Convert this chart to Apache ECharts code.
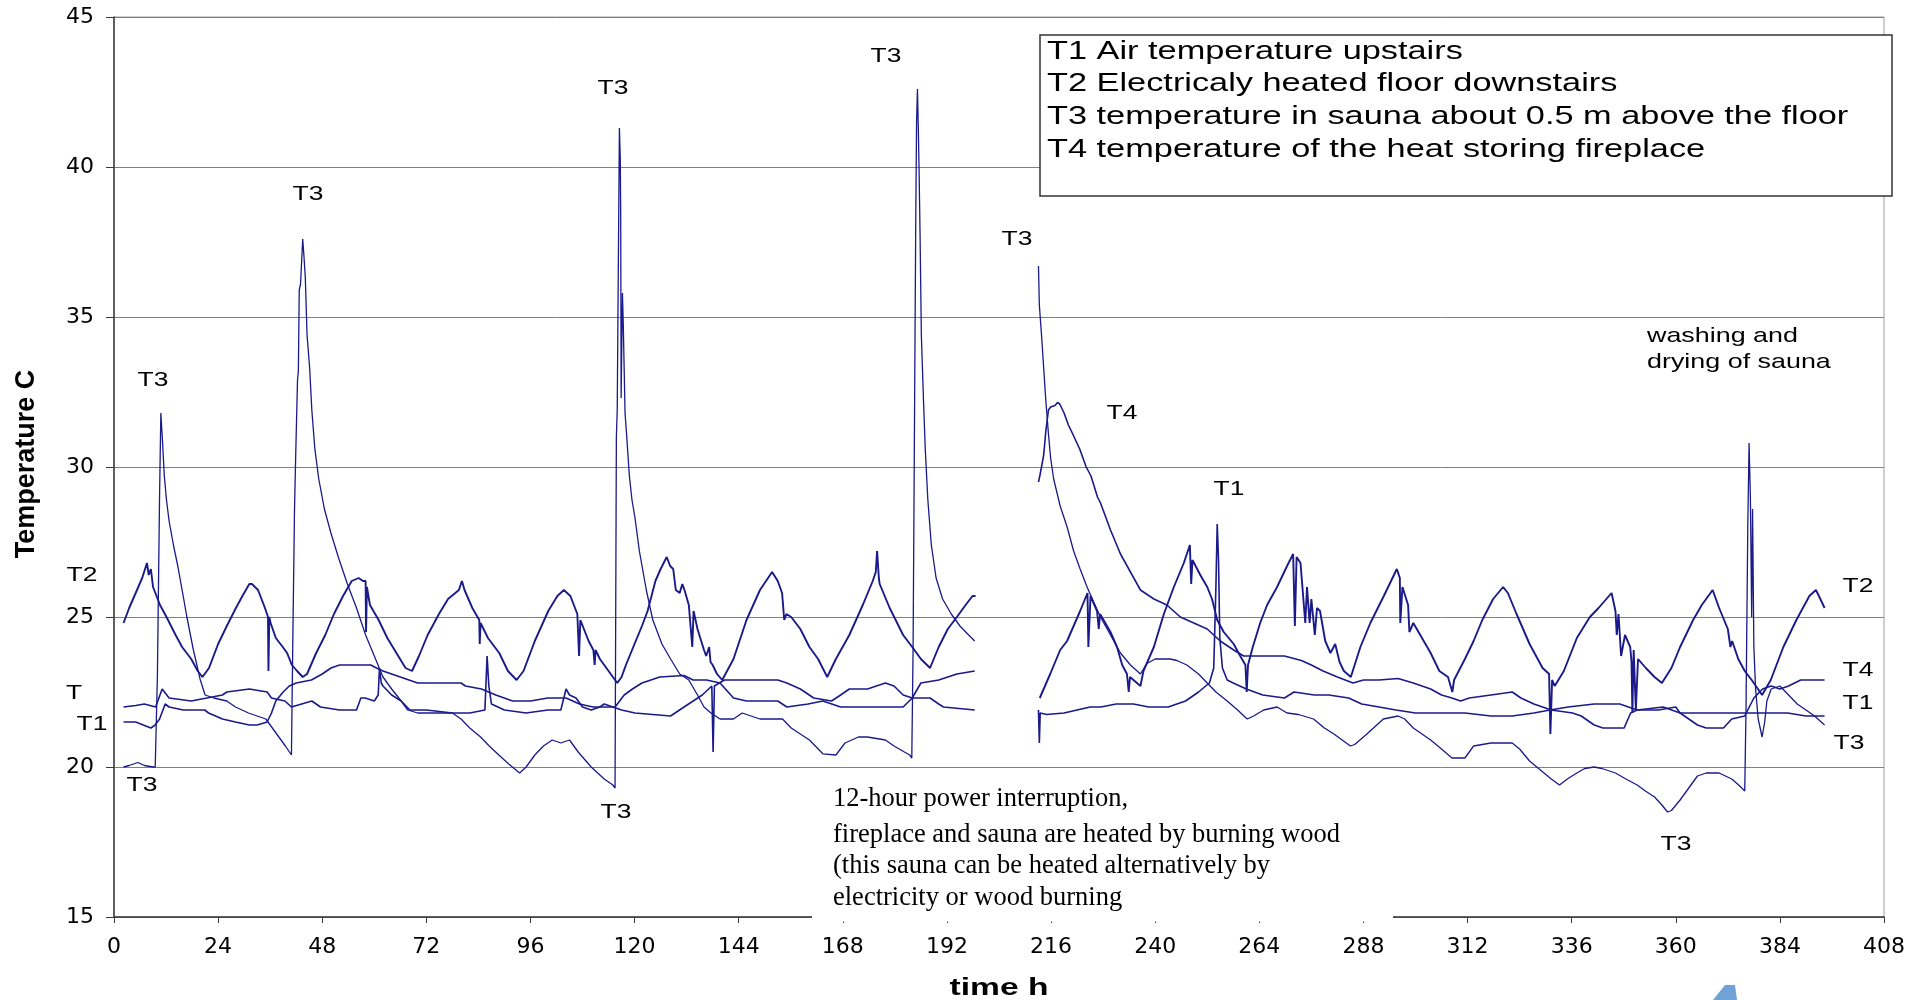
<!DOCTYPE html>
<html><head><meta charset="utf-8">
<script src="https://cdn.jsdelivr.net/npm/echarts@6/dist/echarts.min.js"></script>
<style>html,body{margin:0;padding:0;background:#fff}#c{width:1924px;height:1000px}</style>
</head><body><div id="c"></div>
<script>
// axis settings
const xMin = 0, xMax = 408, xStep = 24;
const yMin = 15, yMax = 45, yStep = 5;

// series names
const seriesNames = ['T1', 'T2', 'T3', 'T4'];

// T1 air temperature upstairs  [hour, degC]
const t1 = [
[2.2,21.5],[5,21.5],[8.5,21.3],[9.5,21.4],[10.5,21.6],[11.8,22.1],[12.7,22.0],[16,21.9],[20.9,21.9],[21.8,21.8],[25,21.6],[28,21.5],[31.2,21.4],[33,21.4],[35.3,21.5],[36.3,21.8],[37.3,22.2],[39,22.5],[40.4,22.7],[42,22.8],[45.5,22.9],[48,23.1],[50,23.3],[52,23.4],[54,23.4],[57,23.4],[59.2,23.4],[60.5,23.3],[62,23.2],[66,23.0],[70,22.8],[75,22.8],[80,22.8],[81,22.7],[84.7,22.6],[88,22.4],[91.9,22.2],[96,22.2],[100,22.3],[104.2,22.3],[107.3,22.1],[110.4,22.0],[115.5,22.0],[117.6,22.4],[119.5,22.6],[121.7,22.8],[125.8,23.0],[131.4,23.05],[133.5,22.9],[136.6,22.9],[139.7,22.8],[142.8,22.3],[145.8,22.2],[153,22.2],[155.1,22.0],[160,22.1],[163.4,22.2],[167.5,22.0],[175,22.0],[181.9,22.0],[184,22.3],[186,22.8],[190.1,22.9],[194.3,23.1],[198.4,23.2],
[206,null],
[213.1,21.9],[213.3,20.8],[213.5,21.8],[215,21.75],[219,21.8],[222,21.9],[225,22.0],[227.5,22.0],[231,22.1],[235,22.1],[238.5,22.0],[243,22.0],[247,22.2],[250,22.5],[252.5,22.8],[253.5,23.3],[254,26.0],[254.3,28.1],[254.6,26.9],[254.9,24.3],[255.5,23.3],[256.6,22.9],[258,22.8],[261,22.6],[264.8,22.4],[269.8,22.3],[272,22.5],[276.7,22.4],[280,22.4],[284.6,22.3],[287.6,22.1],[291.6,22.0],[295.5,21.9],[300,21.8],[311.4,21.8],[317.4,21.7],[322.3,21.7],[327.3,21.8],[331,21.9],[335.2,22.0],[341.2,22.1],[347.1,22.1],[351.1,21.9],[357.1,22.0],[361,21.8],[370.9,21.8],[375.9,21.8],[385.8,21.8],[390,21.7],[394.3,21.7]
];

// T2 electrically heated floor downstairs
const t2 = [
[2.2,24.8],[3.5,25.3],[5,25.8],[6.5,26.3],[7.6,26.8],[8.0,26.4],[8.5,26.6],[9.0,26.0],[10.6,25.4],[12.1,25.0],[14.2,24.4],[15.7,24.0],[17.8,23.6],[19.3,23.2],[20.4,23.0],[21.9,23.3],[24,24.1],[26,24.7],[28.1,25.3],[29.6,25.7],[31.2,26.1],[31.8,26.1],[33.2,25.9],[34.8,25.3],[35.5,25.0],[35.6,23.2],[35.8,25.0],[36.1,24.8],[37.3,24.3],[38.9,24.0],[39.9,23.8],[41,23.4],[42.2,23.2],[43.5,23.0],[44.5,23.1],[46.6,23.8],[48.7,24.4],[50.7,25.1],[52.8,25.7],[54.8,26.2],[56.4,26.3],[57.4,26.2],[58.0,26.2],[58.1,24.5],[58.3,26.0],[59,25.4],[61,24.9],[63,24.3],[65.1,23.8],[67.2,23.3],[68.7,23.2],[70.3,23.7],[72.3,24.4],[74.9,25.1],[77,25.6],[79.5,25.9],[80.2,26.2],[80.8,25.9],[82.6,25.3],[84.2,24.9],[84.3,24.1],[84.5,24.8],[86.2,24.3],[88.8,23.8],[90.8,23.2],[92.8,22.9],[94.4,23.2],[97,24.2],[100.1,25.2],[102.2,25.7],[103.7,25.9],[105.2,25.7],[106.8,25.1],[107.2,23.7],[107.5,24.9],[109.4,24.2],[110.5,23.9],[110.8,23.4],[111,23.9],[112,23.6],[113.5,23.3],[115,23.0],[116,22.8],[117,23.0],[118,23.4],[119.7,24.0],[121.7,24.7],[123,25.2],[124.8,26.2],[126,26.6],[127.4,27.0],[128.2,26.7],[128.9,26.6],[129.5,25.9],[130.4,25.8],[131,26.1],[131.5,25.9],[132.5,25.4],[133.3,24.0],[133.6,25.2],[134.5,24.6],[136,23.9],[136.5,23.7],[137.2,24.0],[137.5,23.5],[138,23.4],[139,23.1],[140.2,22.9],[142.8,23.6],[145.8,24.9],[148.9,25.9],[151.7,26.5],[153,26.2],[154,25.8],[154.5,24.9],[155,25.1],[156.1,25.0],[158.2,24.6],[160.3,24.0],[162.3,23.6],[164.4,23.0],[166.4,23.6],[169.5,24.4],[172.6,25.4],[174.9,26.2],[175.6,26.5],[175.9,27.2],[176.3,26.3],[176.5,26.1],[178.8,25.3],[181.9,24.4],[184,24.0],[186,23.6],[188.1,23.3],[190.1,24.0],[192.2,24.6],[194.3,25.0],[196.3,25.4],[197.9,25.7],[198.6,25.7],
[206,null],
[213.4,22.3],[215.8,23.1],[218.1,23.9],[219.7,24.2],[222.7,25.2],[224.4,25.8],[224.6,24.0],[225.1,25.7],[226.6,25.2],[227,24.6],[227.3,25.1],[228.1,24.9],[229.7,24.5],[231.2,24.0],[232.4,23.4],[233.5,23.1],[233.9,22.5],[234.2,23.0],[235,22.9],[236.6,22.7],[237.3,23.2],[239.7,24.0],[242,25.1],[244.3,26.0],[246.6,26.8],[248,27.4],[248.3,26.1],[248.6,26.9],[250.4,26.4],[252,26.0],[253.1,25.6],[254.3,24.9],[255.8,24.5],[258.1,24.1],[259.6,23.7],[260.8,23.4],[261.1,22.5],[261.4,23.4],[262.5,24.0],[264.2,24.8],[265.8,25.4],[268.1,26.0],[270.4,26.7],[271.8,27.1],[272.2,24.7],[272.6,27.0],[273.5,26.8],[274.6,24.8],[275,26.0],[275.6,24.8],[276,25.6],[276.8,24.4],[277.3,25.3],[278,25.2],[279.2,24.2],[280.4,23.8],[281.5,24.1],[282.5,23.5],[283.5,23.2],[285.1,23.0],[287.3,24.0],[289.6,24.8],[292.7,25.7],[295.7,26.6],[296.4,26.3],[296.5,24.8],[297,26.0],[298.3,25.4],[298.6,24.5],[299.5,24.8],[301.5,24.3],[303.5,23.8],[305.5,23.2],[307.5,23.0],[308.5,22.5],[308.9,22.9],[311.4,23.6],[313.4,24.2],[315.4,24.9],[317.9,25.6],[320.2,26.0],[321.3,25.8],[323.3,25.1],[326.3,24.1],[329.3,23.3],[330.8,23.1],[331.1,21.1],[331.5,22.9],[332.1,22.7],[334.2,23.2],[337.2,24.3],[340.2,25.0],[342.2,25.3],[344,25.6],[345.2,25.8],[346.1,25.2],[346.4,24.4],[346.8,25.1],[347.4,23.7],[348.3,24.4],[349.5,24.0],[349.8,23.5],[350.0,21.8],[350.3,23.9],[350.8,21.9],[351.3,23.6],[353.1,23.3],[355.1,23.0],[356.8,22.8],[359,23.3],[361,24.0],[364,24.9],[366,25.4],[368,25.8],[368.5,25.9],[370,25.3],[372,24.6],[372.6,24.0],[373,24.2],[374.4,23.6],[375.9,23.2],[377.5,22.9],[379.9,22.4],[381.9,22.9],[384.8,24.0],[387.8,24.9],[390.8,25.7],[392.3,25.9],[393,25.7],[394.3,25.3]
];

// T3 temperature in sauna about 0.5 m above the floor
const t3 = [
[2.2,20.0],[3.5,20.05],[5.5,20.15],[7,20.05],[9,20.0],[9.5,20.0],[10.0,23.0],[10.5,29.0],[10.8,31.8],[11.2,30.8],[11.6,29.7],[12.1,28.9],[12.7,28.2],[13.7,27.4],[14.7,26.7],[15.7,25.9],[16.8,25.0],[18.3,23.9],[19.9,22.9],[21,22.4],[23,22.3],[26,22.2],[28,22.0],[31,21.8],[35,21.6],[36.5,21.3],[38,21.0],[39.5,20.7],[40.9,20.4],[41.2,24.0],[41.6,28.5],[41.9,30.5],[42.3,32.9],[42.5,33.2],[42.7,35.9],[43.0,36.1],[43.5,37.6],[43.8,37.0],[44.1,36.3],[44.5,34.4],[45.1,33.3],[45.6,31.9],[46.3,30.6],[47.2,29.6],[48.5,28.6],[50,27.8],[51.7,27.0],[53.8,26.1],[55.9,25.3],[58,24.4],[60,23.7],[62,23.0],[64,22.6],[66.2,22.2],[67.7,21.9],[70,21.8],[75,21.8],[78,21.8],[80,21.6],[82,21.3],[84.5,21.0],[86.5,20.7],[88.7,20.4],[91,20.1],[93.5,19.8],[95,20.0],[97,20.4],[99,20.7],[101,20.9],[103,20.8],[105,20.9],[107,20.5],[110,20.0],[113,19.6],[115,19.4],[115.5,19.3],[115.8,31.0],[116.0,31.9],[116.3,37.6],[116.5,41.3],[116.7,40.3],[116.8,38.4],[116.9,32.3],[117.2,35.8],[117.4,34.7],[117.8,31.8],[118.1,31.2],[118.8,29.7],[119.4,28.9],[120.1,28.3],[121.1,27.2],[122.7,25.9],[124.2,24.9],[126.3,24.1],[128.3,23.6],[130.4,23.1],[132.5,22.9],[134.5,22.4],[136,22.0],[137.6,21.8],[139.7,21.6],[142.8,21.6],[144.8,21.8],[148.9,21.6],[154.1,21.6],[156.1,21.3],[160.3,20.9],[163.4,20.44],[166.4,20.4],[168.5,20.8],[171.6,21.0],[173.7,21.0],[177.8,20.9],[179.8,20.7],[183.4,20.4],[183.9,20.3],[184.2,24.0],[184.5,31.0],[184.8,38.0],[185.0,41.5],[185.2,42.6],[185.4,41.3],[185.6,39.7],[185.8,37.8],[186.1,34.4],[186.6,32.2],[187.0,30.6],[187.6,28.9],[188.4,27.4],[189.5,26.3],[191,25.6],[193,25.1],[195,24.7],[197,24.4],[198.4,24.2],
[206,null],
[213.1,36.7],[213.3,35.4],[213.8,34.4],[214.3,33.3],[214.8,32.2],[215.4,31.1],[215.9,30.3],[216.6,29.6],[218.1,28.7],[219.7,28.0],[221.2,27.2],[222.7,26.6],[224.3,26.0],[225.8,25.5],[227.4,25.0],[229.7,24.4],[232,23.8],[234.3,23.4],[236.6,23.1],[238.1,23.45],[240,23.6],[243.5,23.6],[245,23.55],[247.3,23.4],[250,23.1],[252,22.8],[254,22.5],[256.6,22.2],[259,21.9],[261.2,21.6],[262.7,21.7],[265,21.9],[268.1,22.0],[270.4,21.8],[273,21.75],[276.5,21.6],[279,21.3],[281.2,21.1],[285,20.7],[286,20.75],[288.8,21.1],[292.6,21.6],[296,21.7],[297.5,21.6],[299.5,21.3],[303.5,20.9],[306,20.6],[308.4,20.3],[311.4,20.3],[313.4,20.7],[317.4,20.8],[322.3,20.8],[324,20.6],[326.3,20.2],[328.8,19.9],[331.3,19.6],[333.2,19.4],[335,19.6],[337.2,19.8],[339,19.95],[341.2,20.0],[343,19.95],[346.1,19.8],[348.5,19.6],[351.1,19.4],[353,19.2],[355.1,19.0],[356.7,18.75],[358.1,18.5],[359,18.55],[361,18.9],[363,19.3],[365,19.7],[367,19.8],[370,19.8],[372.9,19.6],[374.5,19.4],[375.9,19.2],[376.2,22.0],[376.6,28.0],[376.9,30.8],[377.2,29.0],[377.5,25.0],[377.7,28.6],[378,24.0],[378.4,22.6],[379,21.6],[379.9,21.0],[380.5,21.5],[381,22.2],[382,22.6],[384,22.7],[386,22.4],[388,22.1],[390,21.9],[392,21.7],[394.3,21.4]
];

// T4 temperature of the heat storing fireplace
const t4 = [
[2.2,22.0],[5,22.05],[7,22.1],[9.6,22.0],[11.1,22.6],[12.7,22.3],[17.8,22.2],[21.4,22.3],[25,22.4],[26,22.5],[31.2,22.6],[35.3,22.5],[36.3,22.3],[39.4,22.2],[40.9,22.0],[45.6,22.2],[47.6,22.0],[52,21.9],[55.9,21.9],[56.9,22.3],[57.9,22.3],[60,22.2],[60.9,22.4],[61.2,23.3],[61.6,22.8],[62,22.7],[64,22.4],[66.2,22.2],[68.2,21.9],[72,21.9],[78,21.8],[82,21.8],[85.5,21.9],[86,23.7],[86.4,22.7],[87,22.1],[90,21.9],[95,21.8],[100,21.9],[103,21.9],[104.2,22.6],[105,22.4],[106.5,22.3],[108,22.0],[110,21.9],[112,22.0],[113,22.1],[115,22.0],[117,21.9],[120.1,21.8],[128.3,21.7],[131.4,22.0],[135.6,22.4],[137.8,22.7],[138.1,20.5],[138.4,22.7],[140.7,22.9],[146.9,22.9],[153,22.9],[155.1,22.8],[158.2,22.6],[161.3,22.3],[165.4,22.2],[167.5,22.4],[169.5,22.6],[173.7,22.6],[177.8,22.8],[179.8,22.7],[181.9,22.4],[184,22.3],[188.1,22.3],[190.1,22.1],[191.2,22.0],[198.4,21.9],
[206,null],
[213.1,29.5],[213.4,29.7],[213.8,30.0],[214.3,30.4],[214.8,31.2],[215.4,31.9],[215.9,32.0],[216.9,32.05],[217.5,32.15],[218,32.1],[219,31.8],[220,31.4],[221,31.1],[222.6,30.6],[224.1,30.0],[225.2,29.7],[226.7,29.0],[227.4,28.8],[229.7,27.9],[232,27.1],[234.3,26.5],[236.6,25.9],[239.7,25.6],[242.7,25.4],[245.8,25.0],[248.9,24.8],[252,24.6],[255,24.2],[258.1,23.9],[260.4,23.7],[265,23.7],[269.8,23.7],[273.7,23.55],[276,23.4],[278.7,23.2],[282,23.0],[285.6,22.8],[288,22.9],[291.6,22.9],[296,22.95],[299.5,22.8],[303.5,22.6],[306,22.4],[308.4,22.3],[310.4,22.2],[312.4,22.3],[317.4,22.4],[322.3,22.5],[324.3,22.3],[327.3,22.1],[331.3,21.9],[336.2,21.8],[338.2,21.7],[341.2,21.4],[343.2,21.3],[348.1,21.3],[349.6,21.8],[351.1,21.9],[356,21.9],[360,22.0],[361,21.8],[365,21.4],[367,21.3],[371,21.3],[372.9,21.6],[375.9,21.7],[378,22.3],[380,22.6],[382,22.7],[384,22.6],[386,22.7],[388.8,22.9],[394.3,22.9]
];

const legendLines = [
  'T1 Air temperature upstairs',
  'T2 Electricaly heated floor downstairs',
  'T3 temperature in sauna about 0.5 m above the floor',
  'T4 temperature of the heat storing fireplace'
];
const noteLines = [
  '12-hour power interruption,',
  'fireplace and sauna are heated by burning wood',
  '(this sauna can be heated alternatively by',
  'electricity or wood burning'
];
const washNote = ['washing and', 'drying of sauna'];

const LINE = '#1a1a8a';
const SANS = 'Liberation Sans, Arial, sans-serif';
const SERIF = 'Liberation Serif, Times New Roman, serif';
const SX = 1.32;

function lab(text, x, y) {
  return {
    type: 'text', x: x, y: y, scaleX: SX, z: 120,
    style: { text: text, fontSize: 20, fontFamily: SANS, fill: '#000', align: 'center', verticalAlign: 'middle' }
  };
}

const graphics = [];
// white box behind power-interruption note (covers the axis line there)
graphics.push({ type: 'rect', z: 100, shape: { x: 812, y: 775, width: 581, height: 146.5 }, style: { fill: '#fff' } });
noteLines.forEach(function (t, i) {
  graphics.push({ type: 'text', z: 110, x: 833, y: [799.5, 835.5, 866.5, 898.5][i],
    style: { text: t, fontSize: 26.5, fontFamily: SERIF, fill: '#000', align: 'left', verticalAlign: 'middle' } });
});
// legend box
graphics.push({ type: 'rect', z: 100, shape: { x: 1040, y: 35, width: 852, height: 161 }, style: { fill: '#fff', stroke: '#333', lineWidth: 1.5 } });
legendLines.forEach(function (t, i) {
  graphics.push({ type: 'text', z: 110, x: 1047, y: [51.5, 83.5, 116.5, 149.5][i], scaleX: 1.32,
    style: { text: t, fontSize: 26, fontFamily: SANS, fill: '#000', align: 'left', verticalAlign: 'middle' } });
});
// curve labels
[
  ['T3', 153, 380], ['T3', 308, 194], ['T3', 613, 88], ['T3', 886, 56], ['T3', 1017, 239],
  ['T4', 1122, 413], ['T1', 1229, 489], ['T2', 82, 575], ['T', 74, 693], ['T1', 92, 724],
  ['T3', 142, 785], ['T3', 616, 812], ['T3', 1676, 844], ['T2', 1858, 586], ['T4', 1858, 670],
  ['T1', 1858, 703], ['T3', 1849, 743]
].forEach(function (a) { graphics.push(lab(a[0], a[1], a[2])); });
washNote.forEach(function (t, i) {
  graphics.push({ type: 'text', z: 110, x: 1647, y: [336, 362][i], scaleX: 1.28,
    style: { text: t, fontSize: 21, fontFamily: SANS, fill: '#000', align: 'left', verticalAlign: 'middle' } });
});
// axis titles
graphics.push({ type: 'text', z: 110, x: 999, y: 988, scaleX: 1.4,
  style: { text: 'time h', fontSize: 24, fontWeight: 'bold', fontFamily: SANS, fill: '#000', align: 'center', verticalAlign: 'middle' } });
graphics.push({ type: 'text', z: 110, x: 27, y: 464, rotation: Math.PI / 2,
  style: { text: 'Temperature C', fontSize: 27, fontWeight: 'bold', fontFamily: SANS, fill: '#000', align: 'center', verticalAlign: 'middle' } });
// cut-off blue mark at bottom
graphics.push({ type: 'polygon', z: 110, shape: { points: [[1725, 985], [1735, 985], [1737, 1000], [1713, 1000]] }, style: { fill: '#6fa3d8' } });

const chart = echarts.init(document.getElementById('c'));
const dataSets = [t1, t2, t3, t4];
const widths = [1.6, 1.9, 1.3, 1.6];
chart.setOption({
  animation: false,
  backgroundColor: '#fff',
  grid: { left: 114, right: 40, top: 17, bottom: 83, show: true, borderColor: '#a0a0a0', borderWidth: 1, backgroundColor: 'transparent' },
  xAxis: {
    type: 'value', min: xMin, max: xMax, interval: xStep,
    axisLine: { show: true, onZero: false, lineStyle: { color: '#3a3a3a', width: 1.5 } },
    axisTick: { show: true, length: 6, lineStyle: { color: '#3a3a3a', width: 1 } },
    axisLabel: { margin: 19, fontSize: 22, fontFamily: 'DejaVu Sans', color: '#000' },
    splitLine: { show: false }
  },
  yAxis: {
    type: 'value', min: yMin, max: yMax, interval: yStep,
    axisLine: { show: true, lineStyle: { color: '#3a3a3a', width: 1.5 } },
    axisTick: { show: true, length: 8, lineStyle: { color: '#3a3a3a', width: 1 } },
    axisLabel: { margin: 20, fontSize: 22, fontFamily: 'DejaVu Sans', color: '#000' },
    splitLine: { show: true, lineStyle: { color: '#808080', width: 1 } }
  },
  series: dataSets.map(function (d, i) {
    return {
      name: seriesNames[i], type: 'line', data: d, showSymbol: false, symbol: 'none',
      connectNulls: false, lineStyle: { color: LINE, width: widths[i] }, z: 3
    };
  }),
  graphic: { elements: graphics }
});
</script></body></html>
